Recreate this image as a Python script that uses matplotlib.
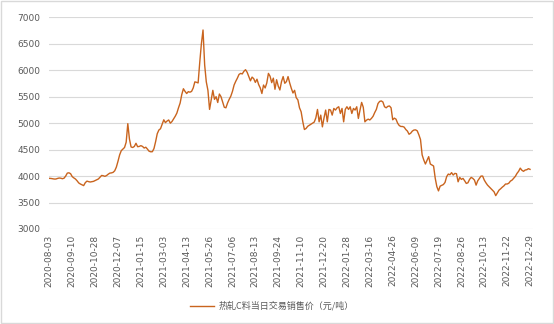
import numpy as np
import matplotlib
matplotlib.use("Agg")
import matplotlib.pyplot as plt
from matplotlib.patches import Rectangle

plt.rcParams['font.family'] = ['Noto Sans CJK SC', 'DejaVu Sans']

# tick labels (every 14th point)
dates = ["2020-08-03", "2020-09-10", "2020-10-28", "2020-12-07", "2021-01-15",
         "2021-03-03", "2021-04-13", "2021-05-26", "2021-07-06", "2021-08-13",
         "2021-09-24", "2021-11-10", "2021-12-20", "2022-01-28", "2022-03-16",
         "2022-04-26", "2022-06-09", "2022-07-19", "2022-08-26", "2022-10-13",
         "2022-11-22", "2022-12-29"]

# price, one row per tick interval
price = [
    3957, 3955, 3950, 3944, 3944, 3955, 3963, 3960, 3950, 3960, 4000, 4056, 4062, 4045,
    3990, 3965, 3944, 3910, 3870, 3850, 3835, 3820, 3875, 3905, 3895, 3888, 3895, 3900,
    3915, 3932, 3945, 3980, 4012, 4006, 3995, 4010, 4035, 4056, 4060, 4070, 4100, 4170,
    4280, 4400, 4480, 4510, 4540, 4640, 4990, 4700, 4550, 4540, 4560, 4620, 4555, 4560,
    4575, 4560, 4530, 4545, 4510, 4470, 4459, 4460, 4520, 4650, 4800, 4870, 4895, 4980,
    5063, 5010, 5040, 5060, 5000, 5030, 5080, 5130, 5190, 5290, 5380, 5540, 5650, 5600,
    5560, 5595, 5585, 5600, 5665, 5780, 5772, 5760, 6150, 6500, 6760, 6100, 5780, 5620,
    5260, 5443, 5620, 5450, 5500, 5390, 5550, 5500, 5400, 5300, 5290, 5380, 5450, 5510,
    5600, 5720, 5790, 5850, 5920, 5940, 5930, 5980, 6010, 5960, 5880, 5800, 5870, 5840,
    5770, 5830, 5730, 5665, 5560, 5720, 5665, 5760, 5940, 5886, 5765, 5850, 5640, 5820,
    5700, 5627, 5785, 5880, 5753, 5785, 5880, 5760, 5658, 5570, 5620, 5480, 5440, 5290,
    5215, 5030, 4880, 4899, 4940, 4960, 4980, 5000, 5020, 5100, 5259, 5025, 5152, 4930,
    5100, 5247, 5025, 5259, 5247, 5152, 5278, 5247, 5290, 5310, 5183, 5278, 5025, 5260,
    5310, 5259, 5310, 5183, 5278, 5247, 5310, 5089, 5247, 5392, 5300, 5025, 5057, 5076,
    5060, 5090, 5130, 5200, 5260, 5370, 5410, 5420, 5400, 5310, 5290, 5317, 5325, 5290,
    5063, 5095, 5076, 5000, 4955, 4937, 4937, 4925, 4880, 4850, 4790, 4810, 4850, 4870,
    4873, 4855, 4780, 4690, 4400, 4304, 4228, 4300, 4367, 4228, 4210, 4190, 3960, 3800,
    3720, 3810, 3825, 3840, 3880, 3990, 4038, 4025, 4065, 4020, 4051, 4045, 3892, 3975,
    3937, 3956, 3911, 3861, 3873, 3937, 3975, 3956, 3924, 3829, 3911, 3956, 4000, 4000,
    3924, 3873, 3829, 3797, 3766, 3734, 3702, 3630, 3683, 3734, 3760, 3790, 3815, 3850,
    3850, 3865, 3905, 3924, 3960, 3995, 4050, 4090, 4150, 4110, 4090, 4114, 4120, 4140,
    4127,
]
step = 14

fig = plt.figure(figsize=(5.54, 3.24), dpi=100)
ax = fig.add_axes([48.5 / 554, 1 - 229 / 324, (533 - 48.5) / 554, (229 - 17.3) / 324])

x = np.arange(len(price))
ax.plot(x, price, color='#C9641E', lw=1.0, label='热轧C料当日交易销售价（元/吨）')

ax.set_ylim(3000, 7000)
ax.set_yticks(range(3000, 7001, 500))
ax.set_xlim(-0.5, len(price) - 1 + 1.8)
ax.set_xticks(np.arange(len(dates)) * step)
ax.set_xticklabels(dates, rotation=90)

ax.grid(axis='y', color='#D9D9D9', lw=0.8)
ax.set_axisbelow(True)
for s in ax.spines.values():
    s.set_visible(False)
ax.tick_params(length=0, labelsize=6.5, colors='#595959')
ax.tick_params(axis='y', pad=6)
ax.tick_params(axis='x', pad=4)
for t in ax.get_xticklabels() + ax.get_yticklabels():
    t.set_family('DejaVu Sans')

fig.legend(loc='center', bbox_to_anchor=(272 / 554, 1 - 306 / 324), frameon=False,
           fontsize=6.5, labelcolor='#595959', handlelength=2.6, handletextpad=0.5)

fig.patches.append(Rectangle((0.001, 0.002), 0.997, 0.995, transform=fig.transFigure,
                             fill=False, edgecolor='#D9D9D9', lw=1))

fig.savefig('out.png', dpi=100)
